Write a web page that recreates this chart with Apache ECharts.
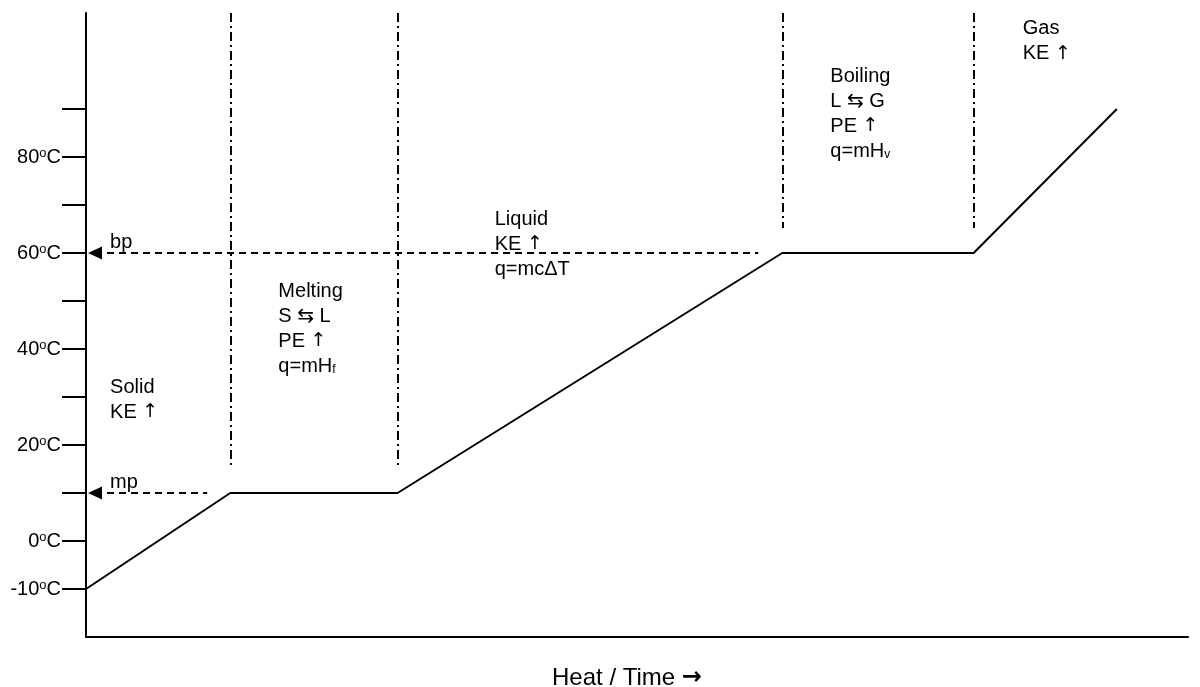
<!DOCTYPE html>
<html>
<head>
<meta charset="utf-8">
<script src="https://cdn.jsdelivr.net/npm/echarts@6/dist/echarts.min.js"></script>
<style>
  html, body { margin: 0; padding: 0; background: #fff; }
  #chart { width: 1200px; height: 687px; }
</style>
</head>
<body>
<div id="chart"></div>
<script>
// heating curve, x = heat added (arbitrary units), y = temperature in ºC
const heatX = [0, 14.4, 31.1, 69.5, 88.6, 102.9];
const tempC = [-10, 10, 10, 60, 60, 90];

const tickTemps = [-10, 0, 10, 20, 30, 40, 50, 60, 70, 80, 90];
const labelTemps = [-10, 0, 20, 40, 60, 80];

// phase boundaries (dash-dot verticals)
const phaseX = [14.4, 31.1, 69.5, 88.6];
const phaseBottom = [15.2, 15.2, 65.2, 65.2];

// melting / boiling point reference lines
const refNames = ['mp', 'bp'];
const refTemps = [10, 60];
const refEndX = [12.1, 67.1];

// region notes
const noteText = [
  'Solid\nKE {a|↑}',
  'Melting\nS ⇆ L\nPE {a|↑}\nq=mH{s|f}',
  'Liquid\nKE {a|↑}\nq=mcΔT',
  'Boiling\nL ⇆ G\nPE {a|↑}\nq=mH{s|v}',
  'Gas\nKE {a|↑}'
];
const noteX = [2.4, 19.2, 40.8, 74.3, 93.5];
const noteY = [34.6, 54.6, 69.6, 99.4, 109.3];

const FONT = '"Liberation Sans", Arial, "DejaVu Sans", sans-serif';

const chart = echarts.init(document.getElementById('chart'));

const markData = [];
phaseX.forEach((x, i) => {
  markData.push([
    { coord: [x, 110], symbol: 'none', lineStyle: { type: [9, 4, 2, 4], width: 2, color: '#000' }, label: { show: false } },
    { coord: [x, phaseBottom[i]], symbol: 'none' }
  ]);
});
refTemps.forEach((t, i) => {
  markData.push([
    {
      coord: [0.9, t],
      symbol: 'triangle',
      symbolSize: [13, 14],
      lineStyle: { type: [7, 5], width: 2, color: '#000' },
      label: {
        show: true,
        formatter: refNames[i],
        position: 'insideStartTop',
        distance: [15, 1],
        color: '#000',
        fontSize: 20,
        fontFamily: FONT
      }
    },
    { coord: [refEndX[i], t], symbol: 'none' }
  ]);
});

chart.setOption({
  animation: false,
  textStyle: { fontFamily: FONT },
  grid: { left: 86, right: 12, top: 13, bottom: 50, containLabel: false, outerBoundsMode: 'none' },
  xAxis: {
    type: 'value',
    min: 0,
    max: 110,
    name: 'Heat / Time {a|→}',
    nameLocation: 'middle',
    nameGap: 29,
    nameTextStyle: {
      color: '#000', fontSize: 24, fontFamily: FONT, padding: [0, 20, 0, 0],
      rich: { a: { fontFamily: '"DejaVu Sans"', fontSize: 24, fontWeight: 'bold', color: '#000' } }
    },
    axisLine: { show: true, onZero: false, lineStyle: { color: '#000', width: 2 } },
    axisTick: { show: false },
    axisLabel: { show: false },
    splitLine: { show: false }
  },
  yAxis: {
    type: 'value',
    min: -20,
    max: 110,
    interval: 10,
    axisLine: { show: true, onZero: false, lineStyle: { color: '#000', width: 2 } },
    axisTick: {
      show: true,
      customValues: tickTemps,
      length: 24,
      lineStyle: { color: '#000', width: 2 }
    },
    axisLabel: {
      customValues: labelTemps,
      formatter: (v) => v + '{o|o}C',
      margin: 25,
      color: '#000',
      fontSize: 20,
      lineHeight: 20,
      fontFamily: FONT,
      rich: {
        o: { fontSize: 13, lineHeight: 13, verticalAlign: 'top', color: '#000', fontFamily: FONT }
      }
    },
    splitLine: { show: false }
  },
  series: [
    {
      type: 'line',
      data: heatX.map((x, i) => [x, tempC[i]]),
      symbol: 'none',
      lineStyle: { color: '#000', width: 2 },
      markLine: {
        silent: true,
        animation: false,
        data: markData
      }
    },
    {
      type: 'scatter',
      clip: false,
      symbolSize: 0,
      itemStyle: { opacity: 1, color: 'rgba(0,0,0,0)' },
      data: noteX.map((x, i) => ({ value: [x, noteY[i]], name: noteText[i] })),
      label: {
        show: true,
        position: [0, 0],
        align: 'left',
        verticalAlign: 'top',
        formatter: (p) => p.name,
        color: '#000',
        fontSize: 20,
        lineHeight: 25,
        fontFamily: FONT,
        rich: {
          a: { fontFamily: '"DejaVu Sans"', fontSize: 19, lineHeight: 25, color: '#000' },
          s: { fontSize: 12, lineHeight: 12, verticalAlign: 'bottom', padding: [0, 0, 3, 0], color: '#000', fontFamily: FONT }
        }
      }
    }
  ]
});
</script>
</body>
</html>
